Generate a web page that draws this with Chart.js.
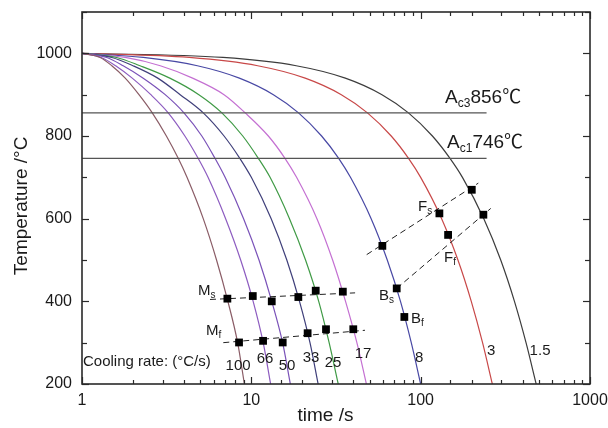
<!DOCTYPE html>
<html><head><meta charset="utf-8">
<script src="https://cdn.jsdelivr.net/npm/chart.js@4/dist/chart.umd.min.js"></script>
<style>html,body{margin:0;padding:0;background:#fff}#wrap{width:608px;height:428px}</style>
</head><body><div id="wrap"><canvas id="c" width="608" height="428"></canvas></div>
<script>
// ---------------- DATA ----------------
const tempLevels = [1000, 990, 970, 940, 900, 856, 800, 746, 700, 600, 500, 400, 300, 200];
const rateLabels = ['100', '66', '50', '33', '25', '17', '8', '3', '1.5'];
const time100 = [1, 1.28, 1.5, 1.8, 2.17, 2.6, 3.15, 3.7, 4.17, 5.2, 6.23, 7.27, 8.3, 9.1];
const time66  = [1, 1.3, 1.58, 1.98, 2.55, 3.23, 4.05, 4.85, 5.55, 7.05, 8.65, 10.25, 11.75, 13.0];
const time50  = [1, 1.4, 1.75, 2.3, 3.1, 4.0, 5.1, 6.1, 7.0, 9.0, 11.1, 13.2, 15.3, 17.0];
const time33  = [1, 1.5, 2.0, 2.8, 3.8, 5.2, 6.9, 8.55, 10.0, 13.1, 16.2, 19.25, 22.2, 24.8];
const time25  = [1, 1.6, 2.2, 3.3, 4.9, 6.7, 8.9, 11.0, 12.9, 16.8, 20.9, 25.0, 28.8, 32.6];
const time17  = [1, 1.8, 2.9, 4.5, 6.9, 9.2, 12.6, 15.8, 18.5, 24.4, 30.2, 36.0, 42.0, 47.8];
const time8   = [1, 2.3, 4.8, 8.5, 13.5, 19.0, 26.0, 32.8, 38.5, 51.0, 63.5, 76.0, 88.0, 100];
const time3   = [1, 4.3, 10.9, 20.8, 34.0, 48.5, 67.0, 84.8, 100, 133, 166, 199, 232, 265];
const time1p5 = [1, 6.8, 18.4, 35.9, 59.1, 84.7, 117.3, 149.0, 176.5, 236, 297, 358, 419, 481];

// martensite start / finish points
const msTime = [7.22, 10.2, 13.2, 18.95, 24.0, 34.7];
const msTemp = [406.5, 412.8, 400, 410.4, 425.8, 423.4];
const mfTime = [8.46, 11.73, 15.32, 21.5, 27.6, 40.0];
const mfTemp = [300.5, 304.4, 300.5, 322.9, 332.5, 332.5];
// bainite / ferrite transformation points
const trTime = [59.4, 72.2, 80.1, 129, 145.2, 200.4, 234.6];
const trTemp = [534.2, 431.3, 362.2, 612.8, 560.7, 669.9, 609.6];

// dashed boundary lines
const msLineTime = [5.7, 41];     const msLineTemp = [404.5, 420.5];
const mfLineTime = [6.83, 46.9];  const mfLineTemp = [300, 330];
const fsLineTime = [48, 219];     const fsLineTemp = [513, 686];
const ffLineTime = [72.2, 259.4]; const ffLineTemp = [431.3, 624.8];

// critical temperatures
const ac3 = 856, ac1 = 746;
const acLineTime = [1, 245];

// axis ticks
const xMajorTicks = [1, 10, 100, 1000];
const yMajorTicks = [200, 400, 600, 800, 1000];

// ---------------- STYLE / CHART ----------------
const FONT = '"Liberation Sans", Arial, "Noto Sans CJK SC", sans-serif';
const curveTimes = [time100, time66, time50, time33, time25, time17, time8, time3, time1p5];
const curveColors = ['#8a5c66', '#8d5cc0', '#7a52b8', '#3f3f7a', '#3f9a45', '#c470d2', '#4848a4', '#c84848', '#3c3c3c'];
const pts = (xs, ys) => xs.map((x, i) => ({x: x, y: ys[i]}));

const datasets = [];
datasets.push({data: pts(msTime, msTemp), showLine: false, pointStyle: 'rect', pointRadius: 5.5, backgroundColor: '#000', borderColor: '#000', borderWidth: 0, order: 0});
datasets.push({data: pts(mfTime, mfTemp), showLine: false, pointStyle: 'rect', pointRadius: 5.5, backgroundColor: '#000', borderColor: '#000', borderWidth: 0, order: 0});
datasets.push({data: pts(trTime, trTemp), showLine: false, pointStyle: 'rect', pointRadius: 5.5, backgroundColor: '#000', borderColor: '#000', borderWidth: 0, order: 0});
[[msLineTime, msLineTemp], [mfLineTime, mfLineTemp], [fsLineTime, fsLineTemp], [ffLineTime, ffLineTemp]].forEach(([a, b]) => {
  datasets.push({data: pts(a, b), borderColor: '#222', borderWidth: 1, borderDash: [6, 4], pointRadius: 0, tension: 0, order: 1});
});
datasets.push({data: pts(acLineTime, [ac3, ac3]), borderColor: '#555', borderWidth: 1.2, pointRadius: 0, order: 2});
datasets.push({data: pts(acLineTime, [ac1, ac1]), borderColor: '#555', borderWidth: 1.2, pointRadius: 0, order: 2});
curveTimes.forEach((tArr, i) => {
  datasets.push({label: rateLabels[i], data: pts(tArr, tempLevels), borderColor: curveColors[i], borderWidth: 1.2,
    pointRadius: 0, cubicInterpolationMode: 'monotone', order: 3});
});

const zeroPad = s => { s.paddingLeft = 0; s.paddingRight = 0; s.paddingTop = 0; s.paddingBottom = 0; };

const annotPlugin = {
  id: 'annot',
  afterDatasetsDraw(chart) {
    const ctx = chart.ctx, xs = chart.scales.x, ys = chart.scales.y;
    const px = v => xs.getPixelForValue(v), py = v => ys.getPixelForValue(v);
    ctx.save();
    ctx.fillStyle = '#1a1a1a';
    ctx.textBaseline = 'alphabetic';
    const rich = (t, T, parts, align) => {
      let x = px(t); const y = py(T);
      if (align === 'center') {
        let w = 0;
        parts.forEach(p => { ctx.font = p[1] + 'px ' + FONT; w += ctx.measureText(p[0]).width; });
        x -= w / 2;
      }
      ctx.textAlign = 'left';
      parts.forEach(p => {
        ctx.font = p[1] + 'px ' + FONT;
        ctx.fillText(p[0], x, y + (p[2] || 0));
        x += ctx.measureText(p[0]).width;
      });
    };
    rich(139.4, 879.5, [['A', 19], ['c3', 12, 4], ['856', 19], ['\u2103', 19]]);
    rich(143.2, 771, [['A', 19], ['c1', 12, 4], ['746', 19], ['\u2103', 19]]);
    rich(4.84, 414.5, [['M', 15], ['s', 10, 3]]);
    rich(5.40, 318, [['M', 15], ['f', 10, 3]]);
    rich(56.8, 402.4, [['B', 15], ['s', 10, 3]]);
    rich(87.8, 347, [['B', 15], ['f', 10, 3]]);
    rich(96.5, 619, [['F', 15], ['s', 10, 3]]);
    rich(137.5, 494, [['F', 15], ['f', 10, 3]]);
    rich(1.014, 243, [['Cooling rate: (\u00B0C/s)', 15]]);
    const rateLabelPos = [[8.35, 233.7], [12.05, 250.6], [16.25, 233.7], [22.5, 253], [30.4, 241], [45.7, 262.7], [97.9, 253], [260.5, 270], [507, 270]];
    rateLabels.forEach((lab, i) => rich(rateLabelPos[i][0], rateLabelPos[i][1], [[lab, 15]], 'center'));
    ctx.restore();
  },
  afterDraw(chart) {
    const ctx = chart.ctx, a = chart.chartArea, xs = chart.scales.x, ys = chart.scales.y;
    ctx.save();
    ctx.strokeStyle = '#2a2a2a';
    ctx.lineWidth = 1.2;
    const seg = (x1, y1, x2, y2) => { ctx.beginPath(); ctx.moveTo(x1, y1); ctx.lineTo(x2, y2); ctx.stroke(); };
    xs.ticks.forEach(tk => {
      const v = tk.value;
      const major = xMajorTicks.includes(v);
      const L = major ? 7 : 4;
      const x = Math.round(xs.getPixelForValue(v)) + 0.5;
      seg(x, a.bottom, x, a.bottom - L);
      seg(x, a.top, x, a.top + L);
    });
    ys.ticks.forEach(tk => {
      const v = tk.value;
      const major = yMajorTicks.includes(v);
      const L = major ? 7 : 5;
      const y = Math.round(ys.getPixelForValue(v)) + 0.5;
      seg(a.left, y, a.left + L, y);
      seg(a.right, y, a.right - L, y);
    });
    ctx.lineWidth = 1.6;
    ctx.strokeRect(a.left, a.top, a.right - a.left, a.bottom - a.top);
    ctx.restore();
  }
};

new Chart(document.getElementById('c'), {
  type: 'line',
  data: {datasets: datasets},
  options: {
    responsive: false,
    animation: false,
    devicePixelRatio: 1,
    layout: {padding: {left: 0, top: 12, right: 18, bottom: 0}},
    plugins: {legend: {display: false}, tooltip: {enabled: false}},
    scales: {
      x: {
        type: 'logarithmic', min: 1, max: 1000,
        grid: {display: false, drawTicks: false},
        border: {display: false},
        ticks: {
          autoSkip: false, maxRotation: 0, padding: 7, color: '#1a1a1a',
          font: {family: FONT, size: 16},
          callback: (v) => xMajorTicks.includes(v) ? String(v) : ''
        },
        title: {display: true, text: 'time /s    ', color: '#1a1a1a', font: {family: FONT, size: 19}, padding: {top: 0, bottom: 1}},
        afterFit: s => { s.height = 44; zeroPad(s); }
      },
      y: {
        type: 'linear', min: 200, max: 1100,
        grid: {display: false, drawTicks: false},
        border: {display: false},
        ticks: {
          stepSize: 100, autoSkip: false, padding: 10, color: '#1a1a1a',
          font: {family: FONT, size: 16},
          callback: (v) => yMajorTicks.includes(v) ? String(v) : ''
        },
        title: {display: true, text: 'Temperature /\u00B0C   ', color: '#1a1a1a', font: {family: FONT, size: 19}, padding: {top: 10, bottom: 0}},
        afterFit: s => { s.width = 82; zeroPad(s); }
      }
    }
  },
  plugins: [annotPlugin]
});
</script>
</body></html>
